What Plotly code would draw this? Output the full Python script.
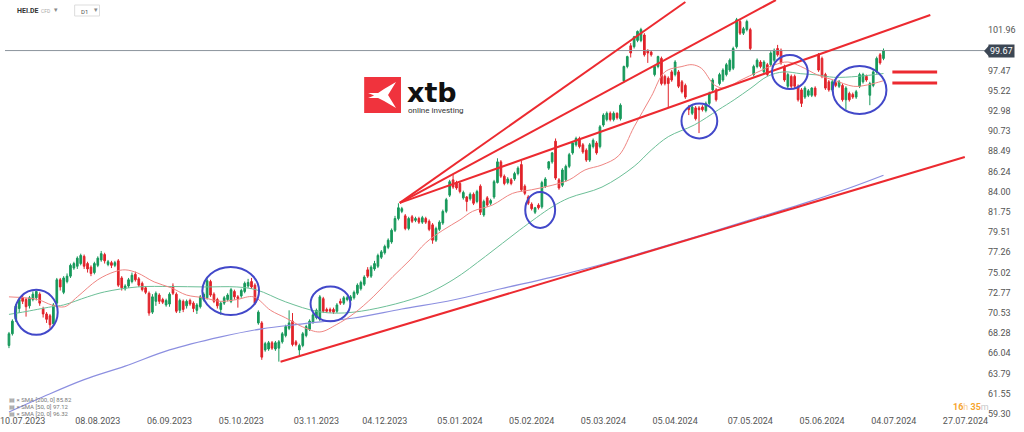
import plotly.graph_objects as go

# ---------------- data ----------------
opens = [66.9, 68.2, 69.8, 71.0, 72.2, 72.0, 71.3, 72.0, 72.2, 72.6, 71.0, 70.4, 70.2, 69.3, 71.6, 74.2, 72.8, 74.0, 74.6, 75.5,
         75.7, 76.0, 76.8, 76.0, 75.6, 75.0, 75.8, 76.4, 77.0, 75.9, 76.1, 75.8, 76.3, 74.4, 73.2, 73.5, 74.0, 74.8, 74.3, 73.8,
         73.3, 72.7, 70.6, 71.8, 72.5, 72.0, 71.4, 71.5, 73.5, 72.6, 70.8, 71.8, 71.3, 71.9, 71.6, 70.8, 71.2, 72.0, 72.2, 74.0,
         72.6, 72.0, 70.9, 71.6, 72.0, 71.8, 72.9, 72.3, 72.4, 72.9, 73.5, 74.0, 73.6, 69.4, 69.4, 66.4, 66.5, 67.2, 66.5, 66.6,
         67.3, 68.0, 68.8, 69.6, 67.3, 66.4, 66.9, 68.0, 68.7, 69.5, 70.0, 69.8, 72.1, 70.9, 70.9, 70.9, 70.7, 71.8, 71.6, 72.0,
         71.9, 72.2, 72.7, 73.2, 73.7, 75.3, 74.6, 75.4, 75.7, 76.7, 77.2, 77.8, 78.4, 79.7, 81.0, 81.8, 81.3, 79.9, 81.2, 80.8,
         81.0, 80.6, 81.0, 80.7, 80.3, 78.6, 79.8, 80.5, 81.8, 83.6, 85.3, 85.0, 84.9, 83.3, 83.4, 83.2, 83.7, 82.9, 84.6, 81.4,
         83.3, 82.7, 83.4, 85.0, 87.3, 85.7, 85.0, 85.3, 85.4, 86.0, 87.0, 84.6, 83.4, 82.6, 81.7, 82.5, 82.3, 84.6, 86.6, 87.3,
         89.6, 85.3, 84.7, 85.3, 86.8, 88.3, 89.2, 89.9, 89.2, 88.6, 87.5, 89.0, 89.4, 89.0, 91.4, 92.0, 92.7, 92.0, 92.7, 92.1,
         96.3, 97.9, 100.2, 100.1, 100.8, 100.8, 101.4, 99.7, 99.5, 97.0, 97.9, 98.8, 96.8, 96.6, 97.3, 97.0, 97.3, 96.2, 95.8, 93.4,
         92.7, 93.3, 93.3, 93.4, 93.0, 93.8, 95.3, 95.3, 96.0, 96.4, 97.0, 97.5, 97.7, 100.1, 102.9, 101.6, 102.0, 102.0, 97.0, 97.9,
         98.4, 97.3, 98.1, 98.1, 98.6, 99.9, 99.7, 97.9, 95.7, 96.8, 96.8, 95.7, 95.3, 94.5, 94.7, 94.7, 95.5, 99.2, 98.8, 97.0,
         96.2, 95.3, 96.1, 95.7, 95.8, 94.2, 94.9, 94.8, 94.5, 95.7, 96.2, 96.8, 94.7, 95.8, 97.3, 99.2, 98.8]
highs = [68.4, 69.8, 71.5, 72.3, 72.5, 72.2, 72.4, 72.9, 73.0, 72.8, 71.2, 70.6, 70.4, 71.6, 74.4, 74.4, 74.6, 74.9, 76.0, 76.2,
         76.8, 77.1, 77.0, 76.2, 75.8, 76.2, 76.8, 77.4, 77.2, 76.4, 76.3, 76.3, 76.5, 74.6, 73.7, 74.4, 75.0, 75.1, 74.5, 74.0,
         73.5, 72.9, 72.6, 72.9, 72.7, 72.2, 72.1, 72.8, 73.8, 72.8, 72.1, 72.0, 72.0, 72.1, 71.8, 71.6, 72.5, 72.8, 74.4, 74.2,
         72.8, 72.2, 71.8, 72.4, 72.7, 73.3, 73.1, 72.5, 73.2, 74.0, 74.3, 74.4, 73.8, 70.8, 69.6, 67.3, 67.4, 67.4, 67.4, 67.5,
         68.4, 69.2, 70.8, 70.5, 67.5, 67.1, 68.4, 69.2, 69.8, 70.5, 71.0, 72.5, 72.3, 71.1, 71.1, 71.1, 71.6, 72.1, 72.4, 72.4,
         72.5, 73.0, 73.8, 74.1, 74.7, 75.6, 75.8, 76.3, 77.1, 77.5, 78.1, 78.8, 79.9, 81.3, 82.7, 82.3, 81.5, 81.2, 81.4, 81.2,
         81.2, 81.3, 81.2, 80.9, 80.5, 80.1, 80.8, 82.0, 83.3, 85.3, 85.9, 85.2, 85.1, 84.1, 83.5, 83.9, 83.9, 84.2, 84.8, 83.1,
         83.5, 83.2, 85.3, 87.7, 87.5, 85.9, 85.6, 85.5, 86.2, 86.8, 87.4, 84.8, 83.6, 82.8, 82.3, 82.7, 85.2, 85.6, 87.4, 88.4,
         89.9, 85.5, 86.6, 87.0, 88.3, 89.6, 90.1, 90.1, 89.4, 88.8, 89.4, 89.9, 89.6, 91.4, 92.7, 92.9, 92.9, 92.9, 92.8, 93.8,
         98.0, 99.1, 100.5, 101.3, 101.9, 102.2, 101.6, 99.8, 99.7, 98.0, 99.1, 99.0, 97.0, 96.8, 97.5, 98.6, 97.5, 96.4, 96.0, 93.6,
         93.6, 93.5, 93.5, 93.6, 94.0, 95.1, 96.6, 95.5, 97.2, 97.7, 98.3, 98.8, 100.1, 103.3, 103.1, 102.3, 103.1, 102.2, 98.1, 98.8,
         98.6, 98.6, 98.3, 99.6, 99.9, 100.3, 99.9, 98.1, 97.2, 97.0, 97.0, 95.9, 95.5, 95.7, 95.4, 95.6, 95.7, 99.4, 99.0, 97.2,
         96.4, 96.4, 96.3, 96.4, 96.0, 95.7, 95.1, 95.0, 95.3, 97.2, 97.2, 97.0, 96.2, 97.5, 99.0, 99.4, 99.9]
lows = [66.6, 68.0, 69.5, 70.5, 71.5, 70.1, 71.0, 71.8, 71.9, 71.3, 70.0, 69.4, 68.8, 69.2, 71.4, 73.0, 72.6, 73.8, 74.4, 75.3,
        75.4, 75.8, 75.4, 75.0, 74.6, 74.8, 75.6, 76.2, 76.0, 75.7, 75.5, 75.6, 73.4, 73.0, 73.0, 73.3, 73.8, 74.0, 73.4, 72.9,
        72.6, 70.2, 70.4, 71.3, 71.5, 71.5, 71.2, 71.2, 72.5, 70.5, 70.5, 70.6, 71.0, 71.3, 70.6, 70.4, 71.0, 71.8, 72.0, 72.3,
        71.6, 71.0, 70.3, 71.4, 71.8, 71.6, 72.0, 71.1, 72.2, 72.7, 73.3, 73.2, 71.4, 69.2, 65.3, 66.2, 66.3, 66.4, 66.3, 65.1,
        67.1, 67.8, 68.6, 66.8, 66.8, 65.7, 66.7, 67.8, 68.5, 69.3, 69.8, 69.6, 70.5, 70.5, 70.5, 70.4, 70.5, 71.4, 71.4, 71.8,
        71.7, 72.0, 72.5, 73.0, 73.5, 74.4, 74.4, 75.2, 75.5, 76.5, 77.0, 77.6, 78.2, 79.5, 80.8, 81.6, 79.7, 79.7, 80.5, 80.6,
        80.4, 80.4, 80.4, 79.6, 78.2, 78.4, 79.6, 80.3, 81.6, 83.4, 84.3, 84.2, 83.8, 83.1, 81.8, 83.0, 82.5, 82.7, 81.4, 81.2,
        82.3, 82.5, 83.2, 84.9, 85.5, 84.7, 84.8, 84.7, 85.2, 85.8, 84.0, 83.6, 82.5, 81.9, 81.5, 82.0, 82.1, 84.4, 86.4, 87.1,
        85.3, 84.2, 84.5, 85.1, 86.6, 88.1, 89.0, 88.8, 88.2, 87.3, 87.3, 88.8, 88.1, 88.8, 91.2, 91.8, 91.8, 91.8, 92.0, 91.9,
        96.1, 97.7, 98.9, 99.9, 100.6, 100.6, 99.0, 98.3, 99.0, 96.8, 97.7, 95.8, 95.8, 93.4, 96.2, 96.8, 95.5, 94.9, 94.3, 92.5,
        92.5, 91.9, 90.5, 92.9, 92.8, 93.6, 95.1, 94.0, 95.8, 96.2, 96.8, 97.3, 97.5, 99.9, 101.4, 101.4, 101.8, 99.7, 96.8, 97.7,
        97.7, 97.1, 96.8, 97.9, 98.4, 99.0, 98.1, 96.2, 95.5, 95.5, 95.5, 94.0, 93.4, 94.3, 94.5, 94.5, 94.5, 97.3, 96.6, 95.3,
        95.1, 95.1, 95.6, 95.5, 94.0, 93.1, 94.0, 94.3, 94.3, 95.5, 96.0, 96.2, 93.6, 95.6, 97.1, 98.1, 98.6]
closes = [68.2, 69.6, 71.3, 72.0, 71.8, 71.2, 72.2, 72.6, 72.9, 71.6, 70.4, 69.8, 69.2, 71.4, 74.2, 73.4, 74.4, 74.6, 75.8, 76.0,
          76.6, 76.9, 75.7, 75.4, 74.9, 76.0, 76.6, 77.1, 76.3, 76.2, 75.8, 76.1, 73.6, 73.3, 73.5, 74.2, 74.7, 74.2, 73.6, 73.1,
          72.8, 70.5, 72.3, 72.7, 71.8, 71.7, 71.9, 72.6, 72.7, 70.7, 71.9, 70.9, 71.8, 71.5, 71.0, 71.4, 72.3, 72.6, 74.1, 72.5,
          71.8, 71.3, 71.6, 72.2, 72.5, 73.1, 72.3, 72.1, 73.0, 73.8, 73.9, 73.4, 71.6, 70.6, 65.6, 67.1, 67.2, 66.6, 67.2, 67.3,
          68.2, 69.0, 69.4, 67.0, 67.0, 66.9, 68.2, 69.0, 69.6, 70.3, 70.8, 72.3, 70.7, 70.7, 70.7, 70.6, 71.4, 71.6, 72.2, 72.2,
          72.3, 72.8, 73.6, 73.9, 74.5, 74.6, 75.6, 76.0, 76.9, 77.3, 77.9, 78.6, 79.7, 81.0, 82.2, 82.1, 79.9, 81.0, 80.7, 81.0,
          80.6, 81.1, 80.6, 79.8, 78.6, 79.9, 80.6, 81.8, 83.1, 85.1, 84.5, 84.4, 84.0, 83.9, 82.9, 83.7, 82.7, 84.0, 81.7, 82.9,
          82.5, 83.0, 85.1, 87.3, 85.7, 84.9, 85.4, 84.9, 86.0, 86.6, 84.2, 83.8, 82.7, 82.1, 82.2, 82.2, 85.0, 85.4, 87.3, 88.3,
          85.5, 84.4, 86.4, 86.8, 88.1, 89.4, 89.9, 89.0, 88.4, 87.5, 89.2, 89.7, 88.3, 91.2, 92.5, 92.7, 92.0, 92.7, 92.2, 93.6,
          97.9, 99.0, 99.4, 101.2, 101.8, 102.0, 99.2, 99.4, 99.2, 97.9, 99.0, 96.0, 96.0, 96.0, 96.4, 98.4, 95.7, 95.1, 94.5, 93.1,
          93.4, 92.1, 93.1, 93.1, 93.8, 94.9, 96.4, 94.2, 97.0, 97.5, 98.1, 98.6, 99.9, 103.1, 101.6, 102.1, 102.9, 99.9, 97.9, 98.6,
          97.9, 98.4, 97.0, 99.4, 99.7, 99.2, 98.3, 96.4, 97.0, 95.7, 95.7, 94.2, 93.8, 95.5, 95.2, 95.5, 94.7, 97.5, 96.8, 95.5,
          95.3, 96.2, 95.8, 96.2, 94.2, 95.5, 94.2, 94.5, 95.1, 97.0, 97.0, 96.4, 96.0, 97.3, 98.8, 98.3, 99.67]

date_labels = ["10.07.2023", "08.08.2023", "06.09.2023", "05.10.2023", "03.11.2023", "04.12.2023", "05.01.2024",
               "05.02.2024", "05.03.2024", "05.04.2024", "07.05.2024", "05.06.2024", "04.07.2024", "27.07.2024"]
date_label_bars = [4, 26, 47, 68, 90, 110, 132, 153, 174, 195, 217, 238, 259, 280]

price_ticks = [101.96, 97.47, 95.22, 92.98, 90.73, 88.49, 86.24, 84.00, 81.75, 79.51, 77.26, 75.02,
               72.77, 70.53, 68.28, 66.04, 63.79, 61.55, 59.30]
last_price = 99.67

sma20_x = [0, 8.4, 12.5, 16.3, 20, 26, 31, 34, 37.6, 42.5, 47.5, 52, 57, 62, 66.7, 71.6, 76.6, 81, 86, 91, 95.8,
           100.8, 106.6, 112.4, 117.4, 122, 127, 132, 135.7, 141.5, 147.4, 153, 159, 164, 168.6, 173.6, 178.5, 183,
           188, 192, 197, 200, 202.7, 206.5, 209.4, 214.3, 219.3, 224, 228, 231.8, 236.7, 241.4, 247.2, 251.3, 256]
sma20_y = [72.3, 72.0, 71.4, 71.2, 72.3, 74.2, 75.1, 75.3, 74.96, 73.96, 73.3, 72.5, 72.2, 71.8, 72.0, 72.3, 70.8,
           69.96, 68.96, 68.4, 69.2, 70.4, 72.3, 74.56, 76.4, 78.3, 79.7, 80.85, 81.8, 82.5, 83.8, 84.2, 84.7, 85.3,
           86.4, 86.96, 88.0, 91.2, 94.55, 97.3, 97.9, 98.1, 97.7, 95.85, 95.5, 96.4, 97.3, 98.07, 98.4, 97.9, 96.96,
           96.4, 95.7, 95.85, 96.32]
sma50_x = [0, 4, 12.5, 16, 23, 28, 37.6, 47.5, 57, 66.7, 72.5, 81, 91, 101, 120, 130, 139.5, 149.4, 159, 164,
           173.6, 183, 188, 193, 200.6, 207.6, 212.3, 217.2, 222, 226.8, 231.8, 236.7, 241.4, 248.4, 256]
sma50_y = [70.35, 70.6, 71.2, 71.4, 72.3, 72.85, 73.4, 73.45, 73.4, 73.4, 73.07, 71.74, 70.63, 70.6, 72.3, 74.2,
           76.8, 79.7, 82.3, 83.3, 84.5, 86.8, 88.6, 90.1, 91.4, 93.07, 94.2, 95.5, 96.8, 97.3, 97.1, 96.96, 96.7,
           96.8, 97.12]
sma200_x = [0, 10, 22, 34, 47, 62, 74, 86, 101, 115, 130, 144, 159, 174, 188, 203, 217, 232, 246, 256]
sma200_y = [59.5, 61.2, 63.1, 64.6, 66.4, 67.85, 68.75, 69.3, 69.95, 70.95, 71.95, 73.2, 74.5, 75.95, 77.5,
            79.2, 80.85, 82.6, 84.4, 85.82]

# hand-drawn analysis lines (bar index, price)
fan_origin_x, fan_origin_y = 114.4, 82.74
fan_end_x = [198.0, 224.5, 269.7]
fan_end_y = [105.07, 105.29, 103.63]
support_x = [79.5, 279.8]
support_y = [65.08, 87.85]
level_x = [258.6, 271.7]
level_y = [97.29, 96.07]
circle_cx = [8.0, 64.9, 94.1, 155.5, 202.1, 228.6, 249.0]
circle_cy = [70.58, 72.96, 71.52, 81.96, 91.85, 97.29, 95.29]
circle_rx = [6.26, 8.3, 5.82, 4.37, 5.24, 5.24, 7.86]
circle_ry = [2.5, 2.67, 1.94, 2.0, 1.94, 1.89, 2.67]

# ---------------- styling ----------------
GREEN = "#17995b"
RED = "#e1232a"
LINE_RED = "#ec2a30"
CIRCLE = "#4248c9"
FONT = "Roboto"
W, H = 1024, 432
ML, MR, MT, MB = 0, 37, 0, 18
PW, PH = W - ML - MR, H - MT - MB


def px(x):
    return x / PW


def py(y):
    return 1 - y / PH


x_idx = list(range(len(closes)))
fig = go.Figure()

# current price line
fig.add_trace(go.Scatter(x=[-5, 300], y=[last_price, last_price], mode="lines",
                         line=dict(color="#8b949c", width=1), hoverinfo="skip"))

fig.add_trace(go.Scatter(x=sma200_x, y=sma200_y, mode="lines", line=dict(color="#8c8fe0", width=1.2, shape="spline"),
                         hoverinfo="skip"))
fig.add_trace(go.Scatter(x=sma50_x, y=sma50_y, mode="lines", line=dict(color="#6cbf97", width=1, shape="spline"),
                         hoverinfo="skip"))
fig.add_trace(go.Scatter(x=sma20_x, y=sma20_y, mode="lines", line=dict(color="#ef8582", width=1, shape="spline"),
                         hoverinfo="skip"))

fig.add_trace(go.Candlestick(
    x=x_idx, open=opens, high=highs, low=lows, close=closes,
    increasing=dict(line=dict(color=GREEN, width=1), fillcolor=GREEN),
    decreasing=dict(line=dict(color=RED, width=1), fillcolor=RED),
    whiskerwidth=0, hoverinfo="skip"))

# trend lines
for ex, ey in zip(fan_end_x, fan_end_y):
    fig.add_trace(go.Scatter(x=[fan_origin_x, ex], y=[fan_origin_y, ey], mode="lines",
                             line=dict(color=LINE_RED, width=2), hoverinfo="skip"))
fig.add_trace(go.Scatter(x=support_x, y=support_y, mode="lines",
                         line=dict(color=LINE_RED, width=2), hoverinfo="skip"))
for ly in level_y:
    fig.add_trace(go.Scatter(x=level_x, y=[ly, ly], mode="lines",
                             line=dict(color=LINE_RED, width=3), hoverinfo="skip"))

shapes = []
for cx, cy, rx, ry in zip(circle_cx, circle_cy, circle_rx, circle_ry):
    shapes.append(dict(type="circle", xref="x", yref="y", x0=cx - rx, x1=cx + rx, y0=cy - ry, y1=cy + ry,
                       line=dict(color=CIRCLE, width=2)))

# logo
shapes.append(dict(type="rect", xref="paper", yref="paper", x0=px(361), x1=px(398), y0=py(113), y1=py(77),
                   fillcolor="#f0333d", line=dict(width=0), layer="above"))
logo_pts = [(365, 93), (375, 93), (381, 89), (393, 82), (385, 95), (393, 108), (381, 101), (375, 98), (365, 98),
            (371, 95.5)]
path = "M " + " L ".join(f"{px(a):.5f},{py(b):.5f}" for a, b in logo_pts) + " Z"
shapes.append(dict(type="path", xref="paper", yref="paper", path=path, fillcolor="white",
                   line=dict(width=0), layer="above"))
# price tag notch
notch = [(984, 51), (989, 45.5), (989, 56.5)]
shapes.append(dict(type="path", xref="paper", yref="paper",
                   path="M " + " L ".join(f"{px(a):.5f},{py(b):.5f}" for a, b in notch) + " Z",
                   fillcolor="#3c4754", line=dict(width=0)))
# D1 box
shapes.append(dict(type="rect", xref="paper", yref="paper", x0=px(70), x1=px(95), y0=py(16), y1=py(5),
                   fillcolor="white", line=dict(color="#dddddd", width=1)))

ann = []
ann.append(dict(xref="paper", yref="y", x=px(988), y=last_price, xanchor="left", yanchor="middle",
                text="99.67", showarrow=False, bgcolor="#3c4754", borderpad=1,
                font=dict(family=FONT, size=9, color="white")))
ann.append(dict(xref="paper", yref="paper", x=px(402), y=py(92), xanchor="left", yanchor="middle",
                text="<b>xtb</b>", showarrow=False, font=dict(family="DejaVu Sans", size=27, color="#111111")))
ann.append(dict(xref="paper", yref="paper", x=px(403), y=py(110), xanchor="left", yanchor="middle",
                text="online investing", showarrow=False, font=dict(family=FONT, size=8, color="#333333")))
ann.append(dict(xref="paper", yref="paper", x=px(10), y=py(11), xanchor="left", yanchor="middle",
                text="<b>HEI.DE</b>", showarrow=False, font=dict(family=FONT, size=7, color="#333333")))
ann.append(dict(xref="paper", yref="paper", x=px(34), y=py(11), xanchor="left", yanchor="middle",
                text="CFD", showarrow=False, font=dict(family=FONT, size=5, color="#aaaaaa")))
ann.append(dict(xref="paper", yref="paper", x=px(47), y=py(10), xanchor="left", yanchor="middle",
                text="▾", showarrow=False, font=dict(family=FONT, size=7, color="#888888")))
ann.append(dict(xref="paper", yref="paper", x=px(74), y=py(11), xanchor="left", yanchor="middle",
                text="D1", showarrow=False, font=dict(family=FONT, size=6, color="#555555")))
ann.append(dict(xref="paper", yref="paper", x=px(87), y=py(10), xanchor="left", yanchor="middle",
                text="▾", showarrow=False, font=dict(family=FONT, size=7, color="#888888")))
ann.append(dict(xref="paper", yref="paper", x=px(971), y=py(407), xanchor="center", yanchor="middle",
                text='<span style="color:#f6a531"><b>16</b></span><span style="color:#f8cf96">h </span>'
                     '<span style="color:#f6a531"><b>35</b></span><span style="color:#c9c9c9">m</span>',
                showarrow=False, font=dict(family=FONT, size=9)))
legend_rows = [("SMA [200, 0]", sma200_y[-1], 399), ("SMA [50, 0]", sma50_y[-1], 406),
               ("SMA [20, 0]", sma20_y[-1], 413)]
for name, val, yy in legend_rows:
    ann.append(dict(xref="paper", yref="paper", x=px(2), y=py(yy), xanchor="left", yanchor="middle",
                    text=f"▤ × {name} {val:.2f}", showarrow=False,
                    font=dict(family=FONT, size=6, color="#777777")))

fig.update_layout(
    width=W, height=H, margin=dict(l=ML, r=MR, t=MT, b=MB),
    paper_bgcolor="white", plot_bgcolor="white", showlegend=False,
    shapes=shapes, annotations=ann, hovermode=False,
    xaxis=dict(range=[-1.165, 286.3], tickvals=date_label_bars, ticktext=date_labels,
               showgrid=False, zeroline=False, showline=False, ticks="", ticklabeloverflow="allow",
               tickfont=dict(family=FONT, size=9, color="#555555"), rangeslider=dict(visible=False)),
    yaxis=dict(side="right", range=[59.28, 105.29], tickvals=price_ticks,
               ticktext=[f"{v:.2f}" for v in price_ticks],
               showgrid=False, zeroline=False, showline=False, ticks="", ticklabeloverflow="allow",
               tickfont=dict(family=FONT, size=9, color="#555555")),
)

fig.write_html("out.html", config={"displayModeBar": False},
               post_script="document.body.style.margin='0';document.body.style.overflow='hidden';")
